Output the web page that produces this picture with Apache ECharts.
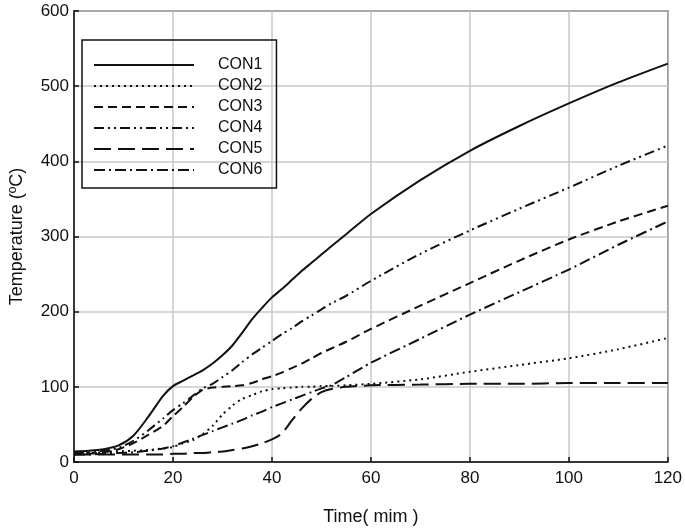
<!DOCTYPE html>
<html>
<head>
<meta charset="utf-8">
<script src="https://cdn.jsdelivr.net/npm/echarts@6/dist/echarts.min.js"></script>
<style>
  html, body { margin: 0; padding: 0; background: #fff; }
  #chart { width: 685px; height: 531px; }
</style>
</head>
<body>
<div id="chart"></div>
<script>
// time (min)
const time = [0, 3, 6, 9, 12, 15, 18, 20, 22, 24, 26, 28, 30, 32, 34, 36, 38, 40, 42, 44, 46, 48, 50, 52, 55, 60, 70, 80, 90, 100, 110, 120]

// temperatures (ºC)
const con1 = [14, 15, 17, 22, 35, 60, 88, 101, 108, 115, 122, 131, 142, 155, 172, 190, 205, 219, 230, 242, 254, 265, 276, 287, 303, 330, 375, 414, 447, 477, 505, 530]
const con2 = [12, 12, 13, 14, 15, 16, 18, 20, 25, 29, 37, 48, 63, 75, 84, 89, 94, 97, 98, 99, 100, 100, 101, 101, 102, 104, 110, 120, 129, 138, 150, 165]
const con3 = [10, 11, 13, 17, 25, 36, 48, 61, 73, 86, 96, 99, 100, 101, 102, 105, 110, 114, 119, 125, 131, 138, 145, 151, 160, 177, 208, 238, 268, 296, 320, 341]
const con4 = [12, 13, 15, 19, 28, 42, 58, 69, 78, 88, 98, 104, 113, 122, 133, 143, 152, 161, 170, 178, 187, 195, 203, 211, 221, 241, 277, 308, 337, 365, 394, 421]
const con5 = [10, 10, 10, 10, 10, 10, 10, 11, 11, 12, 12, 13, 14, 16, 18, 21, 25, 30, 38, 55, 71, 84, 93, 97, 100, 102, 103, 104, 104, 105, 105, 105]
const con6 = [10, 10, 11, 12, 13, 15, 18, 21, 26, 31, 36, 41, 46, 51, 56, 62, 67, 73, 78, 83, 88, 93, 98, 102, 113, 132, 164, 196, 226, 256, 289, 320]

const names = ['CON1', 'CON2', 'CON3', 'CON4', 'CON5', 'CON6']
const values = [con1, con2, con3, con4, con5, con6]
const dashes = ['solid', [2, 4], [9, 5], [10, 4, 2, 4, 2, 4], [17, 7], [11, 4, 2, 4]]

const chart = echarts.init(document.getElementById('chart'))

chart.setOption({
  animation: false,
  textStyle: { fontFamily: 'Liberation Sans', color: '#111' },
  grid: {
    left: 72,
    right: 16,
    top: 11,
    bottom: 68,
    show: true,
    borderColor: '#111',
    borderWidth: 1.5
  },
  legend: {
    orient: 'vertical',
    left: 82,
    top: 40,
    borderColor: '#111',
    borderWidth: 1.5,
    padding: [17, 14, 10, 11],
    itemWidth: 100,
    itemHeight: 14,
    itemGap: 5,
    itemStyle: { opacity: 0 },
    textStyle: { fontSize: 16, color: '#111', padding: [0, 0, 0, 19] },
    data: names
  },
  xAxis: {
    type: 'value',
    min: 0,
    max: 120,
    interval: 20,
    name: 'Time( mim )',
    nameLocation: 'middle',
    nameGap: 46,
    nameTextStyle: { fontSize: 18, color: '#111' },
    axisLine: { lineStyle: { color: '#111', width: 1.5 } },
    axisTick: { inside: true, length: 5, lineStyle: { color: '#111', width: 1.5 } },
    axisLabel: { fontSize: 17, color: '#111', margin: 8 },
    splitLine: { show: true, lineStyle: { color: '#c8c8c8', width: 1.5 } }
  },
  yAxis: {
    type: 'value',
    min: 0,
    max: 600,
    interval: 100,
    name: 'Temperature (ºC)',
    nameLocation: 'middle',
    nameGap: 48,
    nameTextStyle: { fontSize: 18, color: '#111' },
    axisLine: { show: true, lineStyle: { color: '#111', width: 1.5 } },
    axisTick: { show: true, inside: true, length: 5, lineStyle: { color: '#111', width: 1.5 } },
    axisLabel: { fontSize: 17, color: '#111', margin: 5 },
    splitLine: { show: true, lineStyle: { color: '#c8c8c8', width: 1.5 } }
  },
  series: names.map((name, k) => ({
    name: name,
    type: 'line',
    symbol: 'none',
    smooth: 0.25,
    color: '#111',
    lineStyle: { color: '#111', width: 2, type: dashes[k] },
    data: time.map((t, i) => [t, values[k][i]])
  }))
})
</script>
</body>
</html>
